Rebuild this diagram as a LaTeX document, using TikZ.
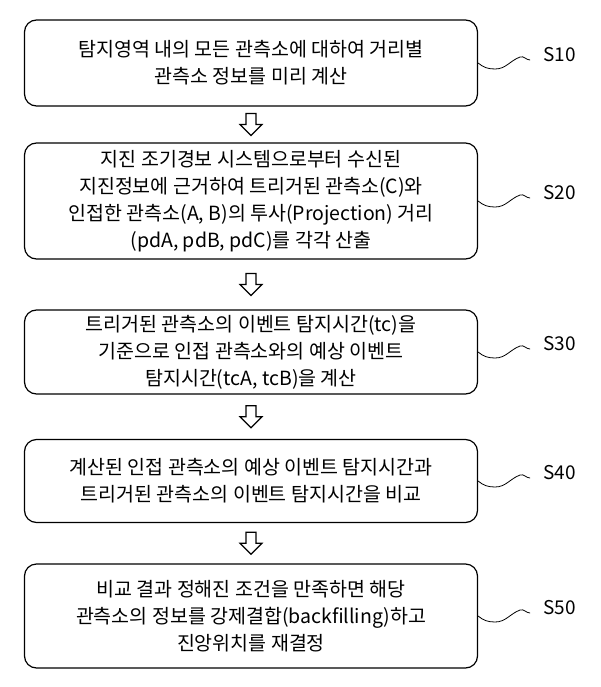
\documentclass[tikz,border=0pt]{standalone}
\usepackage{fontspec}
\setmainfont{Noto Sans CJK KR}
\usetikzlibrary{positioning,calc}
\tikzset{
    stepbox/.style={
           draw, very thick, rounded corners=12pt,
           minimum width=453pt,
           align=center,
           font=\fontsize{19.5}{27}\selectfont,
           },
    steplabel/.style={font=\fontsize{19}{22}\selectfont},
}
\newcommand{\downarrowbetween}[2]{%
  \path ($(#1.south)!0.5!(#2.north)$) coordinate (m);
  \draw[very thick] ($(m)+(-5,-11)$) -- ($(m)+(5,-11)$) -- ($(m)+(5,0)$) -- ($(m)+(11,0)$)
     -- ($(m)+(0,11)$) -- ($(m)+(-11,0)$) -- ($(m)+(-5,0)$) -- cycle;
}
\begin{document}
\begin{tikzpicture}[x=1pt,y=-1pt]
\useasboundingbox (0,0) rectangle (600,687);
\node[stepbox, minimum height=86pt] (s10) at (251,63) {탐지영역 내의 모든 관측소에 대하여 거리별\\관측소 정보를 미리 계산};
\node[stepbox, minimum height=116pt] (s20) at (251,201) {지진 조기경보 시스템으로부터 수신된\\지진정보에 근거하여 트리거된 관측소(C)와\\인접한 관측소(A, B)의 투사(Projection) 거리\\(pdA, pdB, pdC)를 각각 산출};
\node[stepbox, minimum height=84pt] (s30) at (251,352) {트리거된 관측소의 이벤트 탐지시간(tc)을\\기준으로 인접 관측소와의 예상 이벤트\\탐지시간(tcA, tcB)을 계산};
\node[stepbox, minimum height=83pt] (s40) at (251,481) {계산된 인접 관측소의 예상 이벤트 탐지시간과\\트리거된 관측소의 이벤트 탐지시간을 비교};
\node[stepbox, minimum height=104pt] (s50) at (251,616) {비교 결과 정해진 조건을 만족하면 해당\\관측소의 정보를 강제결합(backfilling)하고\\진앙위치를 재결정};
\downarrowbetween{s10}{s20}
\downarrowbetween{s20}{s30}
\downarrowbetween{s30}{s40}
\downarrowbetween{s40}{s50}
\foreach \s/\t in {s10/S10,s20/S20,s30/S30,s40/S40,s50/S50}{
  \node[steplabel, right=62pt of \s.east, yshift=8pt] (\s lab) {\t};
  \draw[thick] (\s.east) to[out=-40,in=180] ++(17,6) to[out=0,in=200] ++(25,-12) to[out=20,in=180] ++(10,3);
}
\end{tikzpicture}
\end{document}
